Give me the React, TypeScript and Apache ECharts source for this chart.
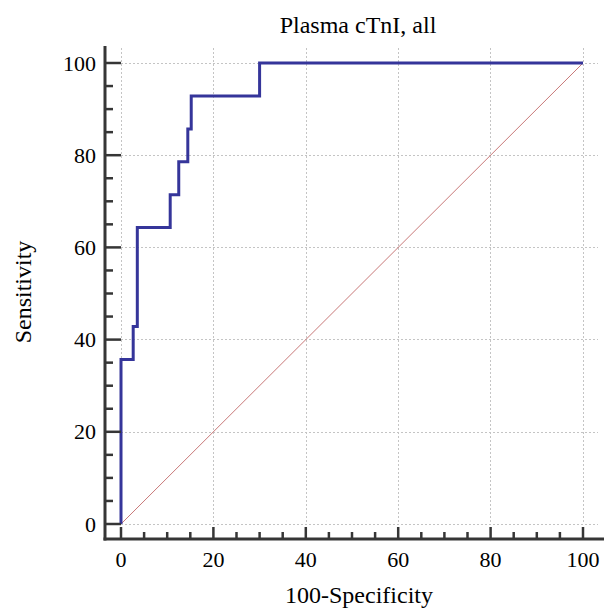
import React, { useEffect, useRef } from "react";
import * as echarts from "echarts";

const chartTitle = "Plasma cTnI, all";
const xAxisName = "100-Specificity";
const yAxisName = "Sensitivity";
const tickStep = 20;
const majorTicks = [0, 20, 40, 60, 80, 100];
const minorTicks = [5, 10, 15, 25, 30, 35, 45, 50, 55, 65, 70, 75, 85, 90, 95];

// ROC curve vertices (100-Specificity, Sensitivity)
const rocX = [0, 0, 2.64, 2.64, 3.53, 3.53, 10.65, 10.65, 12.5, 12.5, 14.46, 14.46, 15.2, 15.2, 30, 30, 100];
const rocY = [0, 35.71, 35.71, 42.86, 42.86, 64.29, 64.29, 71.43, 71.43, 78.57, 78.57, 85.71, 85.71, 92.86, 92.86, 100, 100];
// reference diagonal
const diagX = [0, 100];
const diagY = [0, 100];

const W = 604;
const H = 608;
// pixel geometry of the plot
const X0 = 121;
const X100 = 583;
const Y0 = 524;
const Y100 = 63;
const EXT_R = 598;
const EXT_T = 48;
const AXIS_X = 105;
const AXIS_Y = 539;

const FONT = "'Liberation Serif', 'Times New Roman', serif";
const AXIS_COLOR = "#363636";

const hiddenAxis = (gridIndex: number) => ({
  type: "value",
  gridIndex,
  min: 0,
  max: 100,
  show: false,
  splitLine: { show: false },
});

const tickSeries = (values: number[], dir: "x" | "y", len: number) => ({
  type: "custom",
  xAxisIndex: 0,
  yAxisIndex: 0,
  clip: false,
  silent: true,
  z: 11,
  data: values.map((v) => [v]),
  encode: dir === "x" ? { x: 0 } : { y: 0 },
  renderItem: (params: any, api: any) => {
    const v = api.value(0);
    if (dir === "x") {
      const p = api.coord([v, 0]);
      return {
        type: "line",
        shape: { x1: p[0], y1: AXIS_Y, x2: p[0], y2: AXIS_Y - len },
        style: { stroke: AXIS_COLOR, lineWidth: 2.5 },
      };
    }
    const p = api.coord([0, v]);
    return {
      type: "line",
      shape: { x1: AXIS_X, y1: p[1], x2: AXIS_X + len, y2: p[1] },
      style: { stroke: AXIS_COLOR, lineWidth: 2.5 },
    };
  },
});

export default function App() {
  const ref = useRef<HTMLDivElement>(null);
  useEffect(() => {
    if (!ref.current) return;
    const chart = echarts.init(ref.current, undefined, { renderer: "svg" });
    const xMaxExt = (100 * (EXT_R - X0)) / (X100 - X0);
    const yMaxExt = (100 * (Y0 - EXT_T)) / (Y0 - Y100);
    const gridLine = {
      show: true,
      showMaxLine: false,
      lineStyle: { color: "#c4c4c4", type: [2, 2], width: 1 },
    };
    const option: any = {
      animation: false,
      backgroundColor: "#ffffff",
      grid: [
        { left: X0, right: W - EXT_R, top: EXT_T, bottom: H - Y0 },
        { left: X0, right: W - X100, top: Y100, bottom: H - AXIS_Y },
        { left: AXIS_X, right: W - X100, top: Y100, bottom: H - Y0 },
      ],
      xAxis: [
        {
          type: "value",
          gridIndex: 0,
          min: 0,
          max: xMaxExt,
          interval: tickStep,
          axisLine: { show: false },
          axisTick: { show: false },
          axisLabel: { show: false },
          splitLine: gridLine,
        },
        {
          type: "value",
          gridIndex: 1,
          min: 0,
          max: 100,
          interval: tickStep,
          axisLine: { show: false },
          axisTick: { show: false },
          minorTick: { show: false },
          axisLabel: { show: true, margin: 9, color: "#000", fontFamily: FONT, fontSize: 22 },
          splitLine: { show: false },
        },
        hiddenAxis(2),
      ],
      yAxis: [
        {
          type: "value",
          gridIndex: 0,
          min: 0,
          max: yMaxExt,
          interval: tickStep,
          axisLine: { show: false },
          axisTick: { show: false },
          axisLabel: { show: false },
          splitLine: gridLine,
        },
        hiddenAxis(1),
        {
          type: "value",
          gridIndex: 2,
          min: 0,
          max: 100,
          interval: tickStep,
          axisLine: { show: false },
          axisTick: { show: false },
          minorTick: { show: false },
          axisLabel: { show: true, margin: 9, color: "#000", fontFamily: FONT, fontSize: 22 },
          splitLine: { show: false },
        },
      ],
      series: [
        {
          type: "line",
          xAxisIndex: 0,
          yAxisIndex: 0,
          data: diagX.map((x, i) => [x, diagY[i]]),
          symbol: "none",
          lineStyle: { color: "#c87878", width: 1 },
          z: 2,
        },
        {
          type: "line",
          xAxisIndex: 0,
          yAxisIndex: 0,
          data: rocX.map((x, i) => [x, rocY[i]]),
          symbol: "none",
          lineStyle: { color: "#35359a", width: 3, join: "miter" },
          z: 3,
        },
        tickSeries(majorTicks, "x", 12),
        tickSeries(minorTicks, "x", 7),
        tickSeries(majorTicks, "y", 16),
        tickSeries(minorTicks, "y", 8),
      ],
      graphic: [
        {
          type: "line",
          shape: { x1: AXIS_X, y1: 46, x2: AXIS_X, y2: AXIS_Y + 1.5 },
          style: { stroke: AXIS_COLOR, lineWidth: 3 },
          z: 10,
        },
        {
          type: "line",
          shape: { x1: AXIS_X - 1.5, y1: AXIS_Y, x2: W, y2: AXIS_Y },
          style: { stroke: AXIS_COLOR, lineWidth: 3 },
          z: 10,
        },
        {
          type: "text",
          x: 358,
          y: 25,
          style: { text: chartTitle, fill: "#000", font: `24px ${FONT}`, align: "center", verticalAlign: "middle" },
        },
        {
          type: "text",
          x: 359,
          y: 595,
          style: { text: xAxisName, fill: "#000", font: `24px ${FONT}`, align: "center", verticalAlign: "middle" },
        },
        {
          type: "text",
          x: 23,
          y: 292,
          rotation: Math.PI / 2,
          style: { text: yAxisName, fill: "#000", font: `24px ${FONT}`, align: "center", verticalAlign: "middle" },
        },
      ],
    };
    chart.setOption(option);
    return () => chart.dispose();
  }, []);
  return (
    <div
      ref={ref}
      style={{ position: "absolute", left: 0, top: 0, width: W, height: H }}
    />
  );
}
